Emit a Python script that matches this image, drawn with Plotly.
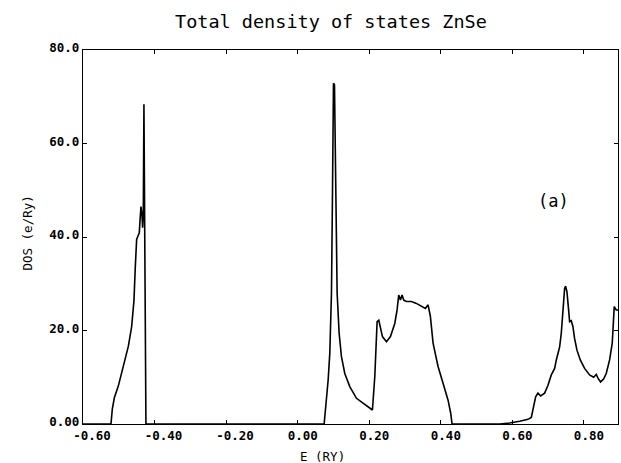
import plotly.graph_objects as go

# ---- data ----
e_band1 = [-0.600, -0.5218, -0.5180, -0.5124, -0.5013, -0.4873, -0.4733, -0.4640, -0.4575, -0.4538,
           -0.4500, -0.4463, -0.4426, -0.4407, -0.4379, -0.4352, -0.4333, -0.4314, -0.4296, -0.4277,
           -0.4258, -0.4240]
dos_band1 = [0, 0, 3.2, 5.6, 8.1, 12.3, 16.6, 20.8, 26.4, 33.5,
             39.5, 40.2, 40.9, 43.4, 46.5, 44.8, 42.0, 44.8, 68.4, 44.8,
             9.5, 0]

e_band2 = [0.0743, 0.0808, 0.0855, 0.0901, 0.0948, 0.0976, 0.1004, 0.1032, 0.1060, 0.1106,
           0.1162, 0.1227, 0.1320, 0.1460, 0.1647, 0.1879, 0.2093, 0.2159, 0.2224, 0.2271,
           0.2317, 0.2373, 0.2485, 0.2597, 0.2718, 0.2783, 0.2829, 0.2876, 0.2922, 0.2969,
           0.3043, 0.3183, 0.3323, 0.3463, 0.3574, 0.3649, 0.3714, 0.3789, 0.3928, 0.4068,
           0.4208, 0.4282, 0.4320]
dos_band2 = [0, 5.1, 9.4, 15.1, 28.0, 49.3, 72.9, 72.5, 49.3, 28.0,
             19.4, 14.4, 10.8, 8.0, 5.5, 4.1, 3.0, 10.1, 21.9, 22.2,
             20.8, 18.7, 17.6, 18.7, 21.5, 24.4, 27.6, 26.5, 27.6, 26.5,
             26.2, 26.2, 25.8, 25.1, 24.7, 25.5, 23.0, 17.3, 12.3, 8.7,
             5.1, 2.3, 0]

e_band3 = [0.5651, 0.5931, 0.6210, 0.6443, 0.6536, 0.6601, 0.6657, 0.6722, 0.6797, 0.6908,
           0.7002, 0.7095, 0.7188, 0.7235, 0.7328, 0.7374, 0.7421, 0.7467, 0.7495, 0.7532,
           0.7579, 0.7607, 0.7653, 0.7700, 0.7746, 0.7812, 0.7905, 0.8026, 0.8166, 0.8278,
           0.8352, 0.8399, 0.8473, 0.8557, 0.8631, 0.8725, 0.8799, 0.8855, 0.8911, 0.8960]
dos_band3 = [0, 0.2, 0.6, 1.0, 1.4, 3.7, 5.8, 6.6, 6.0, 6.6,
             8.3, 10.5, 11.9, 13.7, 16.5, 19.4, 24.4, 29.0, 29.5, 28.3,
             24.4, 21.9, 22.1, 20.8, 18.3, 15.8, 13.7, 11.9, 10.5, 10.0,
             10.6, 9.8, 9.0, 9.6, 10.8, 13.7, 17.3, 25.1, 24.4, 24.4]

x_tickvals = [-0.6, -0.4, -0.2, 0.0, 0.2, 0.4, 0.6, 0.8]
x_ticktext = ["-0.60", "-0.40", "-0.20", "0.00\u00a0", "0.20\u00a0", "0.40\u00a0", "0.60\u00a0", "0.80\u00a0"]
y_tickvals = [0, 20, 40, 60, 80]
y_ticktext = ["0.00", "20.0", "40.0", "60.0", "80.0"]

title_text = "Total density of states ZnSe"
x_title = "E (RY)"
y_title = "DOS (e/Ry)"
panel_label = "(a)"

energy = e_band1 + e_band2 + e_band3
dos = dos_band1 + dos_band2 + dos_band3

MONO = "DejaVu Sans Mono"

fig = go.Figure()
fig.add_trace(go.Scatter(x=energy, y=dos, mode="lines",
                         line=dict(color="black", width=1.6), hoverinfo="skip",
                         showlegend=False))

axis_common = dict(showline=True, linecolor="black", linewidth=1.2, mirror="ticks",
                   ticks="inside", ticklen=4, tickcolor="black", tickwidth=1,
                   showgrid=False, zeroline=False,
                   tickfont=dict(family=MONO, size=12.5, color="black", weight="bold"))

fig.update_layout(
    width=621, height=463,
    margin=dict(l=83, r=3, t=50, b=39),
    paper_bgcolor="white", plot_bgcolor="white",
    xaxis=dict(range=[-0.6, 0.896], tickvals=x_tickvals, ticktext=x_ticktext,
               ticklabelshift=9, **axis_common),
    yaxis=dict(range=[0, 80], tickvals=y_tickvals, ticktext=y_ticktext,
               ticklabelshift=-2, **axis_common),
    annotations=[
        dict(text=title_text, xref="paper", yref="paper", x=0.4636, y=1.0775,
             xanchor="center", yanchor="middle", showarrow=False,
             font=dict(family=MONO, size=18.5, color="black")),
        dict(text=x_title, xref="paper", yref="paper", x=0.4477, y=-0.087,
             xanchor="center", yanchor="middle", showarrow=False,
             font=dict(family=MONO, size=12.5, color="black")),
        dict(text=y_title, xref="paper", yref="paper", x=-0.1037, y=0.5107,
             xanchor="center", yanchor="middle", showarrow=False, textangle=-90,
             font=dict(family=MONO, size=12.5, color="black")),
        dict(text=panel_label, xref="paper", yref="paper", x=0.880, y=0.596,
             xanchor="center", yanchor="middle", showarrow=False,
             font=dict(family=MONO, size=17, color="black")),
    ],
)

fig.write_html("out.html")
